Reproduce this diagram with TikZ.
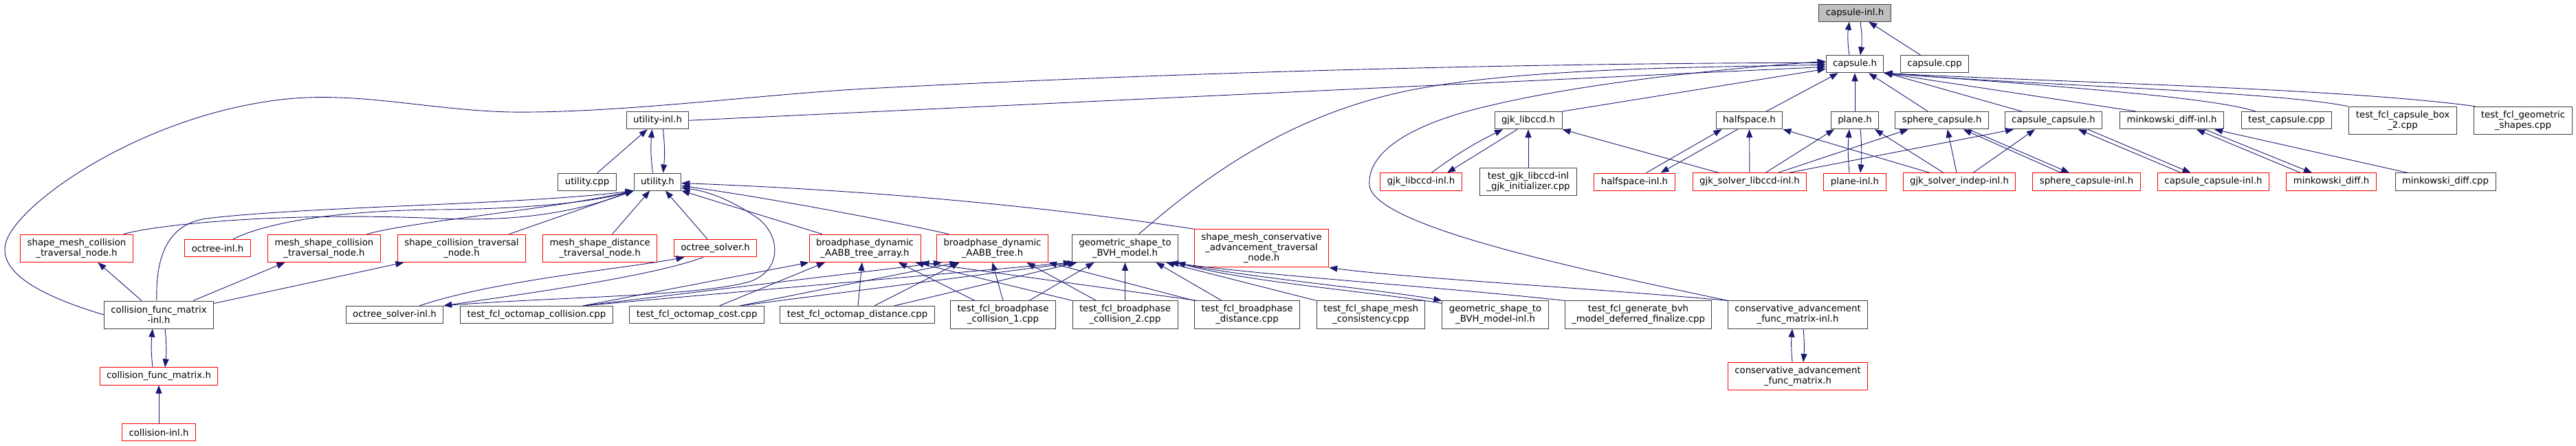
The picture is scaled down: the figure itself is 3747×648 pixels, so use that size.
\documentclass[tikz,border=0pt]{standalone}
\usepackage{fontspec}
\setmainfont{DejaVu Sans}
\usetikzlibrary{arrows.meta,calc}
\definecolor{edgeblue}{HTML}{191970}
\definecolor{boxgrey}{HTML}{404040}
\definecolor{rootfill}{HTML}{BFBFBF}

\begin{document}
\begin{tikzpicture}[x=1pt,y=-1pt]

    \tikzset{
      file/.style={
        draw=boxgrey,
        line width=1pt,
        fill=white,
        inner xsep=10pt,
        inner ysep=6pt,
        minimum height=25pt,
        align=center,
        font=\fontsize{13.3}{15}\selectfont,
      },
      redfile/.style={file, draw=red},
      rootfile/.style={file, fill=rootfill},
      two/.style={minimum height=40pt},
      three/.style={minimum height=55pt},
      dep/.style={draw=edgeblue, line width=0.9pt, -{Triangle[length=12pt,width=9pt]}},
    }
    \useasboundingbox (0,0) rectangle (3747,648);

    % rank 0 and 1
    \node[rootfile] (capinl) at (2698,18.7) {capsule-inl.h};
    \node[file] (caph) at (2698,93.3) {capsule.h};
    \node[file] (capcpp) at (2814,93.3) {capsule.cpp};

    % rank 2
    \node[file] (utilinl) at (956.5,175.2) {utility-inl.h};
    \node[file] (gjkh) at (2223,175.2) {gjk\_libccd.h};
    \node[file] (halfh) at (2544.5,175.2) {halfspace.h};
    \node[file] (planeh) at (2698,175.2) {plane.h};
    \node[file] (sphcap) at (2824.7,175.2) {sphere\_capsule.h};
    \node[file] (capcap) at (2987,175.2) {capsule\_capsule.h};
    \node[file] (minkinl) at (3159,175.2) {minkowski\_diff-inl.h};
    \node[file] (testcap) at (3326,175.2) {test\_capsule.cpp};
    \node[file,two] (testbox) at (3495,175.2) {test\_fcl\_capsule\_box\\\_2.cpp};
    \node[file,two] (testgeo) at (3670,175.2) {test\_fcl\_geometric\\\_shapes.cpp};

    % rank 3
    \node[file] (utilcpp) at (854,264.5) {utility.cpp};
    \node[file] (utilh) at (956.5,264.5) {utility.h};
    \node[redfile] (gjkinl) at (2067,264.5) {gjk\_libccd-inl.h};
    \node[file,two] (testgjk) at (2223,264.5) {test\_gjk\_libccd-inl\\\_gjk\_initializer.cpp};
    \node[redfile] (halfinl) at (2377.5,264.5) {halfspace-inl.h};
    \node[redfile] (solvlib) at (2545,264.5) {gjk\_solver\_libccd-inl.h};
    \node[redfile] (planeinl) at (2698,264.5) {plane-inl.h};
    \node[redfile] (solvind) at (2850,264.5) {gjk\_solver\_indep-inl.h};
    \node[redfile] (sphcapinl) at (3035,264.5) {sphere\_capsule-inl.h};
    \node[redfile] (capcapinl) at (3219.5,264.5) {capsule\_capsule-inl.h};
    \node[redfile] (minkh) at (3391,264.5) {minkowski\_diff.h};
    \node[file] (minkcpp) at (3557,264.5) {minkowski\_diff.cpp};

    % rank 4
    \node[redfile,two] (smcoll) at (111.5,361.3) {shape\_mesh\_collision\\\_traversal\_node.h};
    \node[redfile] (octinl) at (316.5,361.3) {octree-inl.h};
    \node[redfile,two] (mscoll) at (471.5,361.3) {mesh\_shape\_collision\\\_traversal\_node.h};
    \node[redfile,two] (scoll) at (671.5,361.3) {shape\_collision\_traversal\\\_node.h};
    \node[redfile,two] (msdist) at (872.7,361.3) {mesh\_shape\_distance\\\_traversal\_node.h};
    \node[redfile] (octsolv) at (1040.6,361.3) {octree\_solver.h};
    \node[redfile,two] (bparr) at (1258,361.3) {broadphase\_dynamic\\\_AABB\_tree\_array.h};
    \node[redfile,two] (bptree) at (1443.5,361.3) {broadphase\_dynamic\\\_AABB\_tree.h};
    \node[file,two] (geobvh) at (1636.5,361.3) {geometric\_shape\_to\\\_BVH\_model.h};
    \node[redfile,three] (smcons) at (1835,361.3) {shape\_mesh\_conservative\\\_advancement\_traversal\\\_node.h};

    % rank 5
    \node[file,two] (cfminl) at (231,458) {collision\_func\_matrix\\-inl.h};
    \node[file] (octsolvinl) at (574,458) {octree\_solver-inl.h};
    \node[file] (toccoll) at (780.5,458) {test\_fcl\_octomap\_collision.cpp};
    \node[file] (toccost) at (1013.7,458) {test\_fcl\_octomap\_cost.cpp};
    \node[file] (tocdist) at (1247,458) {test\_fcl\_octomap\_distance.cpp};
    \node[file,two] (tbpc1) at (1459,458) {test\_fcl\_broadphase\\\_collision\_1.cpp};
    \node[file,two] (tbpc2) at (1636.5,458) {test\_fcl\_broadphase\\\_collision\_2.cpp};
    \node[file,two] (tbpdist) at (1814,458) {test\_fcl\_broadphase\\\_distance.cpp};
    \node[file,two] (tsmc) at (1994,458) {test\_fcl\_shape\_mesh\\\_consistency.cpp};
    \node[file,two] (geobvhinl) at (2175,458) {geometric\_shape\_to\\\_BVH\_model-inl.h};
    \node[file,two] (tgen) at (2383,458) {test\_fcl\_generate\_bvh\\\_model\_deferred\_finalize.cpp};
    \node[file,two] (cafminl) at (2615,458) {conservative\_advancement\\\_func\_matrix-inl.h};

    % rank 6 and 7
    \node[redfile] (cfmh) at (231,547.5) {collision\_func\_matrix.h};
    \node[redfile,two] (cafmh) at (2615,547.5) {conservative\_advancement\\\_func\_matrix.h};
    \node[redfile] (collinl) at (231,629.3) {collision-inl.h};

    % capsule-inl.h
    \draw[dep] ($(caph.north)+(-8,0)$) to[bend left=8] ($(capinl.south)+(-8,0)$);
    \draw[dep] ($(capinl.south)+(8,0)$) to[bend left=8] ($(caph.north)+(8,0)$);
    \draw[dep] (capcpp) -- (capinl);

    % capsule.h from below
    \draw[dep] (halfh) -- (caph);
    \draw[dep] (planeh) -- (caph);
    \draw[dep] (sphcap) -- (caph);
    \draw[dep] (capcap) -- (caph);
    \draw[dep] ($(minkinl.north)+(-52,0)$) -- (caph.south east);
    \draw[dep] ($(testcap.north)+(-45,0)$) .. controls (3220,142) and (3000,126) .. (caph.south east);
    \draw[dep] ($(testbox.north)+(-80,0)$) .. controls (3300,132) and (2950,124) .. (caph.south east);
    \draw[dep] ($(testgeo.north)+(-70,0)$) .. controls (3400,128) and (3000,120) .. (caph.south east);

    % capsule.h from the left
    \draw[dep] (gjkh.north east) -- ($(caph.west)+(0,7)$);
    \draw[dep] (utilinl.east) -- ($(caph.west)+(0,4)$);
    \draw[dep] (cfminl.west) .. controls (40,425) and (0,390) .. (8,355)
      .. controls (20,300) and (200,170) .. (408,145)
      .. controls (520,132) and (620,160) .. (742,163)
      .. controls (900,165) and (1100,138) .. (1260,129)
      .. controls (1700,106) and (2200,92) .. ($(caph.west)+(0,-2)$);
    \draw[dep] ($(geobvh.north)+(20,0)$) .. controls (1760,250) and (1880,168) .. (2043,133)
      .. controls (2200,100) and (2450,98) .. ($(caph.west)+(0,1)$);
    \draw[dep] (cafminl.north west) .. controls (2300,392) and (2000,330) .. (1992,270)
      .. controls (1988,222) and (2050,180) .. (2170,153)
      .. controls (2300,122) and (2500,100) .. ($(caph.west)+(0,-4)$);

    % utility
    \draw[dep] (utilcpp) -- (utilinl);
    \draw[dep] ($(utilh.north)+(-7,0)$) to[bend left=6] ($(utilinl.south)+(-8,0)$);
    \draw[dep] ($(utilinl.south)+(8,0)$) to[bend left=6] ($(utilh.north)+(8,0)$);
    \draw[dep] ($(cfminl.north)+(-3,0)$) .. controls (226,372) and (245,326) .. (300,318)
      .. controls (450,300) and (760,298) .. (utilh.south west);
    \draw[dep] ($(smcoll.north east)+(-14,0)$) .. controls (230,326) and (420,308) .. (640,318)
      .. controls (780,324) and (860,300) .. (utilh.south west);
    \draw[dep] ($(octinl.north)+(22,0)$) .. controls (390,322) and (500,306) .. (640,305)
      .. controls (780,304) and (870,292) .. (utilh.south west);
    \draw[dep] ($(mscoll.north east)+(-20,0)$) .. controls (600,322) and (800,305) .. (utilh.south west);
    \draw[dep] ($(scoll.north)+(69,0)$) -- (utilh.south west);
    \draw[dep] (msdist) -- (utilh);
    \draw[dep] (octsolv) -- (utilh);
    \draw[dep] ($(bparr.north)+(-62,0)$) -- (utilh.south east);
    \draw[dep] ($(bptree.north west)+(18,0)$) .. controls (1300,322) and (1100,285) .. ($(utilh.east)+(0,6)$);
    \draw[dep] (smcons.north west) .. controls (1550,305) and (1300,278) .. ($(utilh.east)+(0,2)$);
    \draw[dep] (octsolvinl.north east) .. controls (800,432) and (1010,432) .. (1090,410)
      .. controls (1140,393) and (1135,340) .. (1100,316)
      .. controls (1065,292) and (1030,278) .. ($(utilh.east)+(0,9)$);

    % octree solver
    \draw[dep] ($(octsolvinl.north east)+(-35,0)$) .. controls (720,408) and (900,392) .. ($(octsolv.south)+(-45,0)$);
    \draw[dep] ($(octsolv.south)+(-18,0)$) .. controls (950,402) and (760,428) .. (octsolvinl.north east);

    % collision_func_matrix
    \draw[dep] ($(cfmh.north)+(-9,0)$) to[bend left=6] ($(cfminl.south)+(-9,0)$);
    \draw[dep] ($(cfminl.south)+(9,0)$) to[bend left=6] ($(cfmh.north)+(9,0)$);
    \draw[dep] (collinl) -- (cfmh);
    \draw[dep] ($(cfminl.north)+(-25,0)$) -- ($(smcoll.south)+(31,0)$);
    \draw[dep] ($(cfminl.north)+(50,0)$) -- ($(mscoll.south)+(-57,0)$);
    \draw[dep] ($(cfminl.north east)+(0,4)$) -- ($(scoll.south)+(-84,0)$);

    % gjk_libccd
    \draw[dep] ($(gjkinl.north)+(15,0)$) to[bend left=5] ($(gjkh.south)+(-37,0)$);
    \draw[dep] ($(gjkh.south)+(-16,0)$) -- ($(gjkinl.north)+(38,0)$);
    \draw[dep] (testgjk) -- (gjkh);
    \draw[dep] ($(solvlib.north)+(-45,0)$) -- (gjkh.south east);

    % halfspace, plane
    \draw[dep] ($(halfinl.north)+(17,0)$) -- ($(halfh.south)+(-40,0)$);
    \draw[dep] ($(halfh.south)+(-17,0)$) -- ($(halfinl.north)+(38,0)$);
    \draw[dep] (solvlib) -- (halfh);
    \draw[dep] ($(solvind.north)+(-43,0)$) -- (halfh.south east);
    \draw[dep] ($(planeinl.north)+(-8,0)$) to[bend left=5] ($(planeh.south)+(-8,0)$);
    \draw[dep] ($(planeh.south)+(8,0)$) to[bend left=5] ($(planeinl.north)+(8,0)$);
    \draw[dep] ($(solvlib.north)+(23,0)$) -- ($(planeh.south)+(-30,0)$);
    \draw[dep] ($(solvind.north)+(-23,0)$) -- ($(planeh.south)+(29,0)$);

    % sphere_capsule, capsule_capsule, minkowski
    \draw[dep] ($(solvlib.north)+(41,0)$) -- ($(sphcap.south)+(-49,0)$);
    \draw[dep] ($(solvind.north)+(-4,0)$) -- ($(sphcap.south)+(8,0)$);
    \draw[dep] ($(sphcapinl.north)+(-37,0)$) -- ($(sphcap.south)+(31,0)$);
    \draw[dep] ($(sphcap.south)+(39,0)$) -- ($(sphcapinl.north)+(-25,0)$);
    \draw[dep] ($(solvlib.north)+(57,0)$) -- ($(capcap.south)+(-58,0)$);
    \draw[dep] ($(solvind.north)+(20,0)$) -- ($(capcap.south)+(-27,0)$);
    \draw[dep] ($(capcapinl.north)+(-47,0)$) -- ($(capcap.south)+(36,0)$);
    \draw[dep] ($(capcap.south)+(50,0)$) -- ($(capcapinl.north)+(-33,0)$);
    \draw[dep] ($(minkh.north)+(-45,0)$) -- ($(minkinl.south)+(36,0)$);
    \draw[dep] ($(minkinl.south)+(48,0)$) -- ($(minkh.north)+(-28,0)$);
    \draw[dep] ($(minkcpp.north)+(-55,0)$) -- ($(minkinl.south)+(62,0)$);

    % tests into broadphase and bvh headers
    \draw[dep] ($(toccoll.north)+(68,0)$) -- (bparr.south west);
    \draw[dep] ($(toccoll.north)+(68,0)$) -- ($(bptree.south west)+(8,0)$);
    \draw[dep] ($(toccoll.north)+(68,0)$) -- (geobvh.south west);
    \draw[dep] ($(toccost.north)+(33,0)$) -- ($(bparr.south)+(-58,0)$);
    \draw[dep] ($(toccost.north)+(63,0)$) -- ($(bptree.south)+(-50,0)$);
    \draw[dep] ($(toccost.north)+(63,0)$) -- ($(geobvh.south west)+(6,0)$);
    \draw[dep] ($(tocdist.north)+(1,0)$) -- ($(bparr.south)+(-4,0)$);
    \draw[dep] ($(tocdist.north)+(25,0)$) -- ($(bptree.south)+(-48,0)$);
    \draw[dep] ($(tocdist.north)+(54,0)$) -- ($(geobvh.south)+(-70,0)$);
    \draw[dep] ($(tbpc1.north)+(-41,0)$) -- ($(bparr.south)+(49,0)$);
    \draw[dep] (tbpc1.north) -- (bptree.south);
    \draw[dep] ($(tbpc1.north)+(38,0)$) -- ($(geobvh.south)+(-45,0)$);
    \draw[dep] (tbpc2.north west) -- ($(bparr.south east)+(-8,0)$);
    \draw[dep] ($(tbpc2.north)+(-42,0)$) -- ($(bptree.south)+(50,0)$);
    \draw[dep] (tbpc2) -- (geobvh);
    \draw[dep] ($(tbpdist.north west)+(4,0)$) -- (bparr.south east);
    \draw[dep] (tbpdist.north west) -- (bptree.south east);
    \draw[dep] ($(tbpdist.north)+(-37,0)$) -- ($(geobvh.south)+(45,0)$);
    \draw[dep] (tsmc.north west) -- ($(geobvh.south east)+(-18,0)$);
    \draw[dep] ($(geobvh.south east)+(-8,0)$) .. controls (1820,405) and (2000,420) .. (geobvhinl.north west);
    \draw[dep] ($(geobvhinl.north west)+(0,4)$) .. controls (2000,425) and (1810,410) .. ($(geobvh.south east)+(-2,0)$);
    \draw[dep] (tgen.north west) .. controls (2100,418) and (1850,402) .. ($(geobvh.south east)+(-12,0)$);

    % conservative advancement
    \draw[dep] (cafminl.north west) .. controls (2300,418) and (2050,405) .. (smcons.south east);
    \draw[dep] ($(cafmh.north)+(-8,0)$) to[bend left=5] ($(cafminl.south)+(-8,0)$);
    \draw[dep] ($(cafminl.south)+(8,0)$) to[bend left=5] ($(cafmh.north)+(8,0)$);

\end{tikzpicture}
\end{document}
